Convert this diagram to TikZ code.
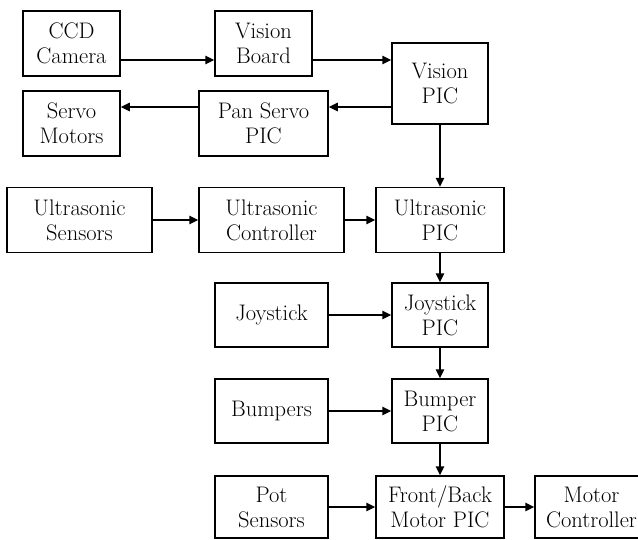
\documentclass[tikz,border=0pt]{standalone}
\usetikzlibrary{arrows.meta}
\begin{document}
\begin{tikzpicture}[x=1pt,y=-1pt,
  bx/.style 2 args={draw, line width=1.5pt, align=center, inner sep=0pt,
     minimum width=#1, minimum height=#2,
     font=\fontsize{22.5}{25}\selectfont},
  arr/.style={line width=1.5pt, -{Triangle[length=9pt,width=8.5pt]}}]
\useasboundingbox (0,0) rectangle (638,539);
\node[bx={97pt}{65pt}]  (ccd)   at (71.5,43.5)  {CCD\\Camera};
\node[bx={97pt}{65pt}]  (vb)    at (263.5,43.5) {Vision\\Board};
\node[bx={96pt}{81pt}]  (vpic)  at (440,83.5)   {Vision\\PIC};
\node[bx={97pt}{65pt}]  (servo) at (71.5,123.5) {Servo\\Motors};
\node[bx={129pt}{65pt}] (pan)   at (263.5,123.5){Pan Servo\\PIC};
\node[bx={145pt}{65pt}] (us)    at (79.5,220)   {Ultrasonic\\Sensors};
\node[bx={145pt}{65pt}] (uc)    at (271.5,220)  {Ultrasonic\\Controller};
\node[bx={128pt}{65pt}] (upic)  at (440,220)    {Ultrasonic\\PIC};
\node[bx={113pt}{64pt}] (joy)   at (271.5,315)  {Joystick};
\node[bx={96pt}{64pt}]  (jpic)  at (440,315)    {Joystick\\PIC};
\node[bx={113pt}{64pt}] (bump)  at (271.5,411)  {Bumpers};
\node[bx={96pt}{64pt}]  (bpic)  at (440,411)    {Bumper\\PIC};
\node[bx={113pt}{62pt}] (pot)   at (271.5,507)  {Pot\\Sensors};
\node[bx={128pt}{62pt}] (fb)    at (440,507)    {Front/Back\\Motor PIC};
\node[bx={113pt}{62pt}] (mc)    at (591.5,507)  {Motor\\Controller};
\coordinate (ya) at (0,60);
\coordinate (yb) at (0,107);
\draw[arr] (ccd.east |- ya) -- (vb.west |- ya);
\draw[arr] (vb.east |- ya) -- (vpic.west |- ya);
\draw[arr] (vpic.west |- yb) -- (pan.east |- yb);
\draw[arr] (pan.west |- yb) -- (servo.east |- yb);
\draw[arr] (vpic.south) -- (upic.north);
\draw[arr] (us) -- (uc);
\draw[arr] (uc) -- (upic);
\draw[arr] (upic.south) -- (jpic.north);
\draw[arr] (joy) -- (jpic);
\draw[arr] (jpic.south) -- (bpic.north);
\draw[arr] (bump) -- (bpic);
\draw[arr] (bpic.south) -- (fb.north);
\draw[arr] (pot) -- (fb);
\draw[arr] (fb) -- (mc);
\end{tikzpicture}
\end{document}
